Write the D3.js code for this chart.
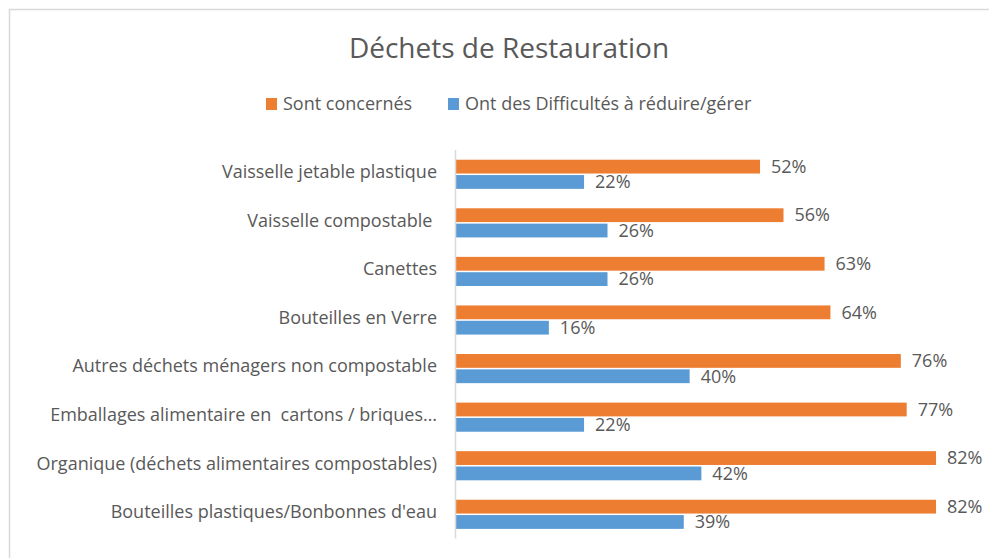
<!DOCTYPE html>
<html>
<head>
<meta charset="utf-8">
<script src="https://cdn.jsdelivr.net/npm/d3@7"></script>
<style>
  body { margin: 0; background: #fff; }
  svg { display: block; font-family: "Open Sans", sans-serif; }
</style>
</head>
<body>
<div id="chart"></div>
<script>
const categories = [
  "Vaisselle jetable plastique",
  "Vaisselle compostable ",
  "Canettes",
  "Bouteilles en Verre",
  "Autres déchets ménagers non compostable",
  "Emballages alimentaire en  cartons / briques…",
  "Organique (déchets alimentaires compostables)",
  "Bouteilles plastiques/Bonbonnes d'eau"
];
const seriesNames = ["Sont concernés", "Ont des Difficultés à réduire/gérer"];
const concernes = [52, 56, 63, 64, 76, 77, 82, 82];
const difficultes = [22, 26, 26, 16, 40, 22, 42, 39];
const colors = ["#ED7D31", "#5B9BD5"];

const width = 989, height = 558;
const textColor = "#595959";

const svg = d3.select("#chart").append("svg")
  .attr("width", width)
  .attr("height", height);

// chart frame
svg.append("path")
  .attr("d", `M9.5,${height} V9.5 H${width}`)
  .attr("fill", "none")
  .attr("stroke", "#d9d9d9")
  .attr("stroke-width", 1.5);

// title
svg.append("text")
  .attr("x", 509)
  .attr("y", 58)
  .attr("text-anchor", "middle")
  .attr("font-size", 28)
  .attr("fill", textColor)
  .text("Déchets de Restauration");

// legend
const legendX = [266, 448];
const legend = svg.selectAll("g.legend")
  .data(seriesNames)
  .enter().append("g")
  .attr("class", "legend")
  .attr("transform", (d, i) => `translate(${legendX[i]},98)`);
legend.append("rect")
  .attr("width", 11)
  .attr("height", 12)
  .attr("fill", (d, i) => colors[i]);
legend.append("text")
  .attr("x", 17)
  .attr("y", 6)
  .attr("dy", "0.35em")
  .attr("font-size", 18)
  .attr("fill", textColor)
  .text(d => d);

// scales
const x0 = 455;
const x = d3.scaleLinear().domain([0, 100]).range([x0, x0 + 586.6]);
const y = d3.scaleBand()
  .domain(categories)
  .range([150, 538.6])
  .paddingInner(0.4)
  .paddingOuter(0.2);
const ySub = d3.scaleBand()
  .domain([0, 1])
  .range([0, y.bandwidth()])
  .paddingInner(0.1);

const rows = categories.map((c, i) => ({ cat: c, vals: [concernes[i], difficultes[i]] }));

const groups = svg.selectAll("g.row")
  .data(rows)
  .enter().append("g")
  .attr("class", "row")
  .attr("transform", d => `translate(0,${y(d.cat)})`);

groups.selectAll("rect")
  .data(d => d.vals)
  .enter().append("rect")
  .attr("x", x(0))
  .attr("y", (d, i) => ySub(i))
  .attr("width", d => x(d) - x(0))
  .attr("height", ySub.bandwidth())
  .attr("fill", (d, i) => colors[i]);

groups.selectAll("text.val")
  .data(d => d.vals)
  .enter().append("text")
  .attr("class", "val")
  .attr("x", d => x(d) + 11)
  .attr("y", (d, i) => ySub(i) + ySub.bandwidth() / 2)
  .attr("dy", "0.35em")
  .attr("font-size", 18)
  .attr("fill", textColor)
  .text(d => d + "%");

// category axis
const yAxis = d3.axisLeft(y).tickSize(0).tickPadding(18);
const axisG = svg.append("g")
  .attr("transform", `translate(${x0},0)`)
  .call(yAxis);
axisG.select(".domain")
  .attr("stroke", "#d9d9d9")
  .attr("stroke-width", 1.5)
  .attr("d", `M0.5,150V${538.6}`);
axisG.selectAll(".tick text")
  .attr("font-family", "Open Sans, sans-serif")
  .attr("font-size", 18)
  .attr("fill", textColor)
  .attr("y", -2)
  .attr("xml:space", "preserve");
</script>
</body>
</html>
